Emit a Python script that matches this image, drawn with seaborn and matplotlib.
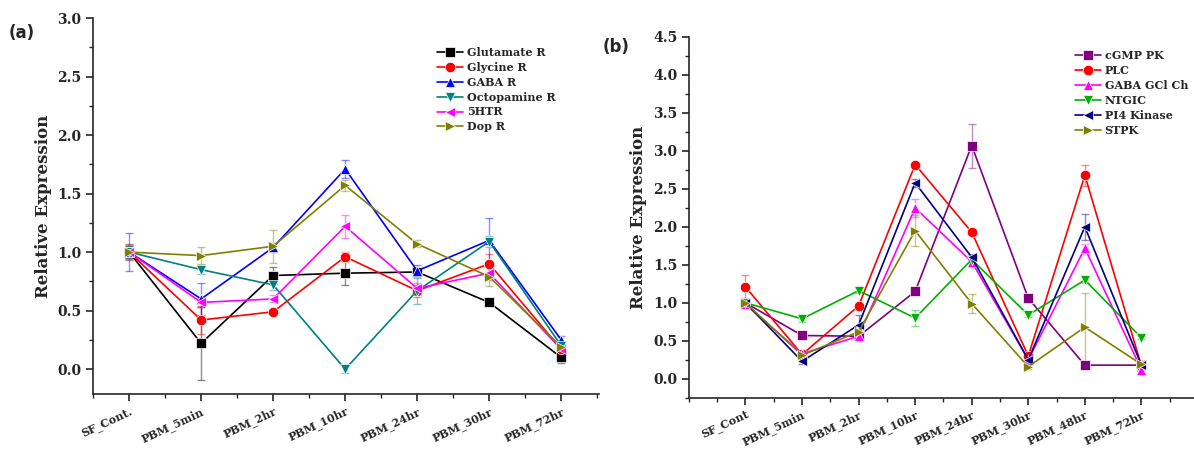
import matplotlib
matplotlib.use("Agg")
import matplotlib.pyplot as plt
import seaborn as sns
import pandas as pd
from matplotlib.ticker import MultipleLocator

# panel (a)
cats_a = ["SF_Cont.", "PBM_5min", "PBM_2hr", "PBM_10hr", "PBM_24hr", "PBM_30hr", "PBM_72hr"]
genes_a = ["Glutamate R", "Glycine R", "GABA R", "Octopamine R", "5HTR", "Dop R"]
vals_a = [
    [1.00, 0.22, 0.80, 0.82, 0.83, 0.57, 0.10],
    [1.00, 0.42, 0.49, 0.96, 0.67, 0.90, 0.17],
    [1.00, 0.60, 1.04, 1.71, 0.84, 1.10, 0.25],
    [1.00, 0.85, 0.72, 0.00, 0.67, 1.09, 0.20],
    [1.00, 0.57, 0.60, 1.22, 0.69, 0.82, 0.17],
    [1.00, 0.97, 1.05, 1.57, 1.07, 0.79, 0.19],
]
errs_a = [
    [0.05, 0.31, 0.07, 0.10, 0.03, 0.02, 0.05],
    [0.06, 0.12, 0.03, 0.04, 0.05, 0.08, 0.03],
    [0.16, 0.14, 0.04, 0.08, 0.05, 0.19, 0.03],
    [0.05, 0.04, 0.04, 0.03, 0.11, 0.05, 0.03],
    [0.07, 0.04, 0.03, 0.10, 0.05, 0.06, 0.03],
    [0.07, 0.07, 0.14, 0.05, 0.03, 0.08, 0.03],
]
colors_a = ["#000000", "#ff0000", "#0000ff", "#008080", "#ff00ff", "#808000"]
markers_a = ["s", "o", "^", "v", "<", ">"]

# panel (b)
cats_b = ["SF_Cont", "PBM_5min", "PBM_2hr", "PBM_10hr", "PBM_24hr", "PBM_30hr", "PBM_48hr", "PBM_72hr"]
genes_b = ["cGMP PK", "PLC", "GABA GCl Ch", "NTGIC", "PI4 Kinase", "STPK"]
vals_b = [
    [1.00, 0.57, 0.56, 1.15, 3.07, 1.06, 0.18, 0.18],
    [1.21, 0.32, 0.96, 2.82, 1.93, 0.30, 2.68, 0.17],
    [0.98, 0.33, 0.56, 2.25, 1.54, 0.25, 1.72, 0.12],
    [1.00, 0.79, 1.16, 0.80, 1.57, 0.84, 1.30, 0.54],
    [1.00, 0.23, 0.71, 2.58, 1.60, 0.25, 2.00, 0.18],
    [1.00, 0.31, 0.62, 1.95, 0.99, 0.16, 0.68, 0.19],
]
errs_b = [
    [0.06, 0.03, 0.03, 0.04, 0.29, 0.04, 0.02, 0.02],
    [0.16, 0.04, 0.05, 0.04, 0.03, 0.03, 0.14, 0.02],
    [0.05, 0.04, 0.03, 0.12, 0.05, 0.03, 0.06, 0.02],
    [0.04, 0.04, 0.03, 0.10, 0.04, 0.03, 0.04, 0.02],
    [0.04, 0.03, 0.13, 0.05, 0.04, 0.03, 0.17, 0.02],
    [0.04, 0.04, 0.04, 0.20, 0.12, 0.03, 0.45, 0.02],
]
colors_b = ["#800080", "#ff0000", "#ff00ff", "#00b000", "#000080", "#808000"]
markers_b = ["s", "o", "^", "v", "<", ">"]


def long_df(cats, genes, vals, errs):
    rows = []
    for g, v, e in zip(genes, vals, errs):
        for i, (c, y, s) in enumerate(zip(cats, v, e)):
            rows.append({"pos": i, "time": c, "gene": g, "value": y, "err": s})
    return pd.DataFrame(rows)


sns.set_theme(style="ticks")
plt.rcParams["font.family"] = ["DejaVu Serif"]
plt.rcParams["font.weight"] = "bold"

fig = plt.figure(figsize=(11.94, 4.5), dpi=100)
ax_a = fig.add_axes([0.078, 0.124, 0.424, 0.836])
ax_b = fig.add_axes([0.577, 0.116, 0.423, 0.802])


def draw(ax, cats, genes, vals, errs, colors, markers, xlim, ylim, ymaj, legend_anchor):
    df = long_df(cats, genes, vals, errs)
    pal = dict(zip(genes, colors))
    mk = dict(zip(genes, markers))
    for g in genes:
        d = df[df["gene"] == g]
        ax.errorbar(d["pos"], d["value"], yerr=d["err"], fmt="none",
                    ecolor=pal[g], alpha=0.45, elinewidth=1, capsize=3, zorder=1)
    sns.lineplot(data=df, x="pos", y="value", hue="gene", style="gene",
                 hue_order=genes, style_order=genes, palette=pal,
                 markers=mk, dashes=False, markersize=7.5, linewidth=1.2,
                 markeredgewidth=0.5, ax=ax, zorder=2)
    ax.set_xlim(*xlim)
    ax.set_ylim(*ylim)
    ax.set_xticks(range(len(cats)))
    ax.set_xticklabels(cats, rotation=25, ha="right", rotation_mode="anchor",
                       fontsize=8, fontweight="bold")
    ax.xaxis.set_minor_locator(MultipleLocator(0.5))
    ax.yaxis.set_major_locator(MultipleLocator(ymaj))
    ax.yaxis.set_minor_locator(MultipleLocator(ymaj / 2))
    for lab in ax.get_yticklabels():
        lab.set_fontweight("bold")
        lab.set_fontsize(10)
    ax.tick_params(axis="both", which="major", length=5, width=1.2, direction="out")
    ax.tick_params(axis="both", which="minor", length=3, width=1.0, direction="out")
    ax.tick_params(axis="x", pad=3)
    ax.set_xlabel("")
    ax.set_ylabel("Relative Expression", fontsize=12, fontweight="bold")
    sns.despine(ax=ax)
    for sp in ("left", "bottom"):
        ax.spines[sp].set_linewidth(1.2)
    leg = ax.legend(loc="upper left", bbox_to_anchor=legend_anchor, frameon=False,
                    fontsize=8, handlelength=2.4, handletextpad=0.3,
                    labelspacing=0.35, borderaxespad=0)
    for t in leg.get_texts():
        t.set_fontweight("bold")


draw(ax_a, cats_a, genes_a, vals_a, errs_a, colors_a, markers_a,
     (-0.5, 6.53), (-0.214, 3.0), 0.5, (0.67, 0.935))
draw(ax_b, cats_b, genes_b, vals_b, errs_b, colors_b, markers_b,
     (-1.0, 7.93), (-0.25, 4.5), 0.5, (0.755, 0.975))

fig.text(0.007, 0.915, "(a)", fontsize=12, fontweight="bold", family=["DejaVu Sans"])
fig.text(0.505, 0.885, "(b)", fontsize=12, fontweight="bold", family=["DejaVu Sans"])

fig.savefig("out.png", dpi=100)
